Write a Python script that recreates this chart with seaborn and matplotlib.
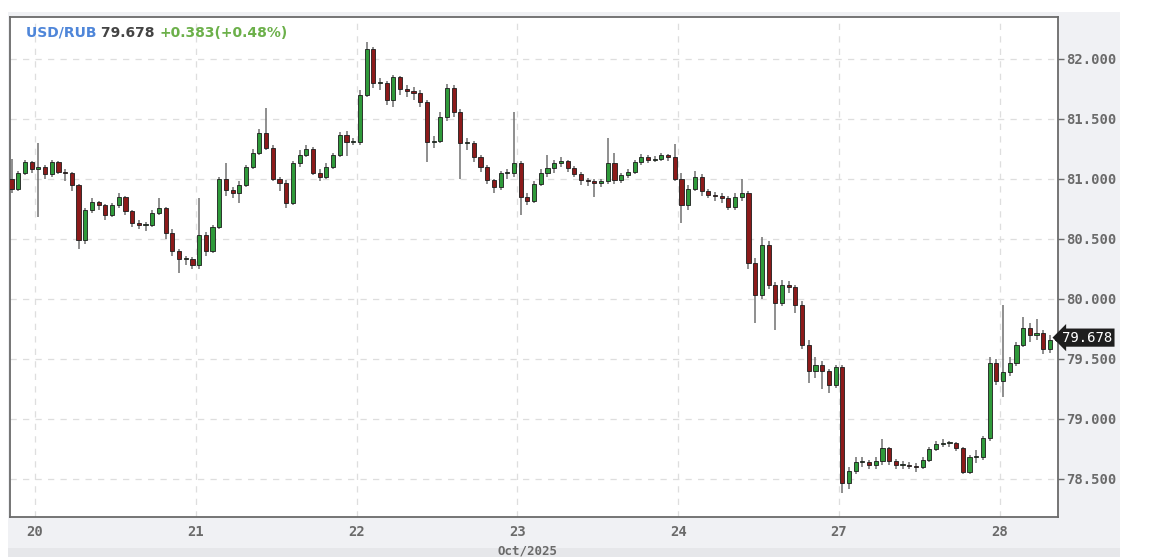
import numpy as np
import pandas as pd
import matplotlib.pyplot as plt
import seaborn as sns
from matplotlib.patches import Rectangle

# Velas horarias USD/RUB, 19-28 oct 2025 (cierre, maximo, minimo por hora)
dias_eje = ["20", "21", "22", "23", "24", "27", "28"]
apertura_inicial = 81.00

cierre_19 = [80.92, 81.05, 81.14, 81.08]
max_19 = [81.17, 81.07, 81.16, 81.15]
min_19 = [80.88, 80.90, 81.03, 81.05]

cierre_20 = [81.10, 81.04, 81.14, 81.06, 81.05, 80.95, 80.49, 80.74, 80.81, 80.78, 80.70, 80.78,
             80.85, 80.73, 80.63, 80.62, 80.62, 80.72, 80.76, 80.55, 80.40, 80.33, 80.33, 80.28]
max_20 = [81.30, 81.12, 81.16, 81.15, 81.08, 81.06, 80.96, 80.76, 80.84, 80.82, 80.79, 80.80,
          80.88, 80.86, 80.74, 80.66, 80.64, 80.74, 80.84, 80.77, 80.58, 80.42, 80.36, 80.35]
min_20 = [80.68, 81.00, 81.02, 81.04, 80.98, 80.90, 80.42, 80.46, 80.72, 80.74, 80.66, 80.68,
          80.76, 80.70, 80.60, 80.58, 80.57, 80.60, 80.70, 80.50, 80.36, 80.22, 80.28, 80.25]

cierre_21 = [80.53, 80.40, 80.60, 81.00, 80.91, 80.88, 80.95, 81.10, 81.22, 81.38, 81.26, 81.00,
             80.97, 80.80, 81.13, 81.20, 81.25, 81.05, 81.02, 81.10, 81.20, 81.37, 81.31, 81.31]
max_21 = [80.84, 80.56, 80.62, 81.02, 81.13, 80.93, 80.98, 81.12, 81.25, 81.42, 81.59, 81.28,
          81.02, 80.99, 81.15, 81.24, 81.28, 81.27, 81.08, 81.13, 81.22, 81.39, 81.40, 81.34]
min_21 = [80.25, 80.36, 80.38, 80.58, 80.86, 80.84, 80.80, 80.93, 81.08, 81.20, 81.24, 80.98,
          80.90, 80.76, 80.78, 81.10, 81.18, 81.03, 80.98, 81.00, 81.08, 81.18, 81.19, 81.28]

cierre_22 = [81.70, 82.08, 81.80, 81.80, 81.66, 81.85, 81.75, 81.73, 81.72, 81.64, 81.31, 81.32,
             81.52, 81.76, 81.56, 81.30, 81.30, 81.18, 81.10, 80.99, 80.93, 81.05, 81.05, 81.13]
max_22 = [81.74, 82.14, 82.10, 81.84, 81.82, 81.87, 81.86, 81.78, 81.77, 81.74, 81.66, 81.36,
          81.56, 81.79, 81.78, 81.58, 81.34, 81.32, 81.20, 81.12, 81.00, 81.07, 81.08, 81.56]
min_22 = [81.28, 81.68, 81.76, 81.74, 81.62, 81.60, 81.70, 81.68, 81.66, 81.60, 81.14, 81.26,
          81.30, 81.48, 81.52, 81.00, 81.24, 81.14, 81.06, 80.96, 80.88, 80.91, 81.00, 81.02]

cierre_23 = [80.85, 80.82, 80.96, 81.05, 81.09, 81.13, 81.15, 81.09, 81.04, 80.99, 80.98, 80.97,
             80.98, 81.13, 80.99, 81.03, 81.06, 81.14, 81.18, 81.16, 81.17, 81.20, 81.18, 81.00]
max_23 = [81.15, 80.88, 80.98, 81.08, 81.20, 81.16, 81.18, 81.16, 81.11, 81.06, 81.01, 81.00,
          81.00, 81.34, 81.22, 81.05, 81.08, 81.16, 81.21, 81.20, 81.19, 81.22, 81.21, 81.29]
min_23 = [80.70, 80.78, 80.80, 80.94, 81.02, 81.05, 81.10, 81.06, 81.02, 80.95, 80.94, 80.85,
          80.93, 80.96, 80.96, 80.97, 81.01, 81.04, 81.12, 81.13, 81.14, 81.15, 81.15, 80.98]

cierre_24 = [80.78, 80.92, 81.02, 80.90, 80.87, 80.86, 80.84, 80.77, 80.85, 80.88, 80.30, 80.03,
             80.45, 80.12, 79.97, 80.12, 80.10, 79.95, 79.62, 79.40, 79.45, 79.40, 79.28, 79.43]
max_24 = [81.05, 80.95, 81.07, 81.04, 80.92, 80.89, 80.88, 80.86, 80.88, 81.00, 80.90, 80.34,
          80.52, 80.48, 80.14, 80.16, 80.15, 80.12, 79.98, 79.66, 79.52, 79.48, 79.42, 79.45]
min_24 = [80.63, 80.74, 80.90, 80.86, 80.84, 80.82, 80.80, 80.74, 80.74, 80.82, 80.25, 79.80,
          80.00, 80.08, 79.74, 79.94, 80.05, 79.88, 79.58, 79.30, 79.34, 79.25, 79.22, 79.26]

cierre_27 = [78.47, 78.57, 78.64, 78.64, 78.62, 78.65, 78.76, 78.65, 78.62, 78.62, 78.61, 78.60,
             78.66, 78.75, 78.79, 78.80, 78.80, 78.76, 78.56, 78.68, 78.68, 78.84, 79.47, 79.32]
max_27 = [79.45, 78.60, 78.68, 78.68, 78.66, 78.68, 78.83, 78.77, 78.67, 78.65, 78.64, 78.63,
          78.68, 78.77, 78.82, 78.83, 78.82, 78.81, 78.77, 78.70, 78.74, 78.86, 79.52, 79.50]
min_27 = [78.38, 78.42, 78.54, 78.60, 78.58, 78.58, 78.62, 78.62, 78.58, 78.58, 78.58, 78.56,
          78.58, 78.64, 78.73, 78.77, 78.77, 78.73, 78.54, 78.54, 78.63, 78.66, 78.82, 79.28]

cierre_28 = [79.39, 79.47, 79.62, 79.76, 79.70, 79.72, 79.58, 79.66, 79.678]
max_28 = [79.95, 79.52, 79.64, 79.85, 79.80, 79.83, 79.74, 79.70, 79.70]
min_28 = [79.18, 79.36, 79.44, 79.60, 79.64, 79.66, 79.54, 79.55, 79.64]

ultimo = "79.678"
cambio = "+0.383(+0.48%)"

cierres = cierre_19 + cierre_20 + cierre_21 + cierre_22 + cierre_23 + cierre_24 + cierre_27 + cierre_28
maximos = max_19 + max_20 + max_21 + max_22 + max_23 + max_24 + max_27 + max_28
minimos = min_19 + min_20 + min_21 + min_22 + min_23 + min_24 + min_27 + min_28

df = pd.DataFrame({"close": cierres, "high": maximos, "low": minimos})
# la apertura de cada vela es el cierre de la anterior
df["open"] = df["close"].shift(1).fillna(apertura_inicial)
df["x"] = np.arange(len(df))

# posiciones de inicio de cada dia (en indice de vela)
inicio_dias = [len(cierre_19) + 24 * i - 0.5 for i in range(len(dias_eje))]

sns.set_theme(style="white")
plt.rcParams["font.family"] = ["DejaVu Sans"]

W, H = 1157, 557
fig = plt.figure(figsize=(W / 100, H / 100), dpi=100)
fig.patch.set_facecolor("white")

# paneles grises alrededor del grafico
fig.patches.append(Rectangle((8 / W, 9 / H), 1112 / W, (H - 12 - 9) / H, transform=fig.transFigure,
                             facecolor="#f0f1f4", edgecolor="none", zorder=-2))
fig.patches.append(Rectangle((8 / W, 0), 1112 / W, 9 / H, transform=fig.transFigure,
                             facecolor="#e6e7ea", edgecolor="none", zorder=-2))

ax = fig.add_axes([10 / W, (H - 517) / H, 1048 / W, 500 / H])
ax.set_zorder(1)
ax.set_facecolor("white")

sube = df["close"] >= df["open"]
colores = np.where(sube, "#2f9a3a", "#8c1a1a")
cuerpo = (df["close"] - df["open"]).abs().clip(lower=0.008)
base = df[["open", "close"]].min(axis=1)

ax.vlines(df["x"], df["low"], df["high"], color="#707070", linewidth=1.1, zorder=2)
ax.bar(df["x"], cuerpo, bottom=base, width=0.62, color=colores,
       edgecolor="#1c1c1c", linewidth=0.6, zorder=3)

ax.set_xlim(-0.23, len(df) - 0.8)
ax.set_ylim(78.183, 82.35)

ax.set_xticks(inicio_dias)
ax.set_xticklabels(dias_eje)
ax.set_yticks([78.5, 79.0, 79.5, 80.0, 80.5, 81.0, 81.5, 82.0])
ax.yaxis.set_major_formatter(plt.FuncFormatter(lambda v, p: f"{v:.3f}"))
ax.yaxis.tick_right()

ax.grid(True, color="#dedede", linestyle=(0, (5, 5)), linewidth=0.9)
ax.set_axisbelow(True)

for lado in ax.spines.values():
    lado.set_color("#6a6a6a")
    lado.set_linewidth(1.3)

ax.tick_params(axis="both", which="major", direction="out", length=4, width=1,
               color="#6a6a6a", labelcolor="#6a6a6a", labelsize=10, pad=2)
for lbl in ax.get_xticklabels() + ax.get_yticklabels():
    lbl.set_family("DejaVu Sans Mono")
    lbl.set_fontweight("bold")

# titulo con el par, el ultimo precio y el cambio
t1 = ax.text(0.0153, 0.968, "USD/RUB ", transform=ax.transAxes, ha="left", va="center",
             fontsize=10, fontweight="bold", color="#4f86d9")
t2 = ax.annotate(ultimo + " ", xy=(1, 0), xycoords=t1, va="bottom", ha="left",
                 fontsize=10, fontweight="bold", color="#444444")
ax.annotate(cambio, xy=(1, 0), xycoords=t2, va="bottom", ha="left",
            fontsize=10, fontweight="bold", color="#6cb04a")

# etiqueta del ultimo precio en el eje derecho
ax.text(1.004, df["close"].iloc[-1], ultimo, transform=ax.get_yaxis_transform(),
        ha="left", va="center", fontsize=10, color="white", family="DejaVu Sans Mono",
        bbox=dict(boxstyle="larrow,pad=0.15", facecolor="#1e1e1e", edgecolor="none"),
        clip_on=False, zorder=5)

fig.text(528 / W, 1 - 544 / H, "Oct/2025", ha="center", va="top", fontsize=9,
         color="#6a6a6a", family="DejaVu Sans Mono", fontweight="bold")

fig.savefig("out.png", dpi=100)
